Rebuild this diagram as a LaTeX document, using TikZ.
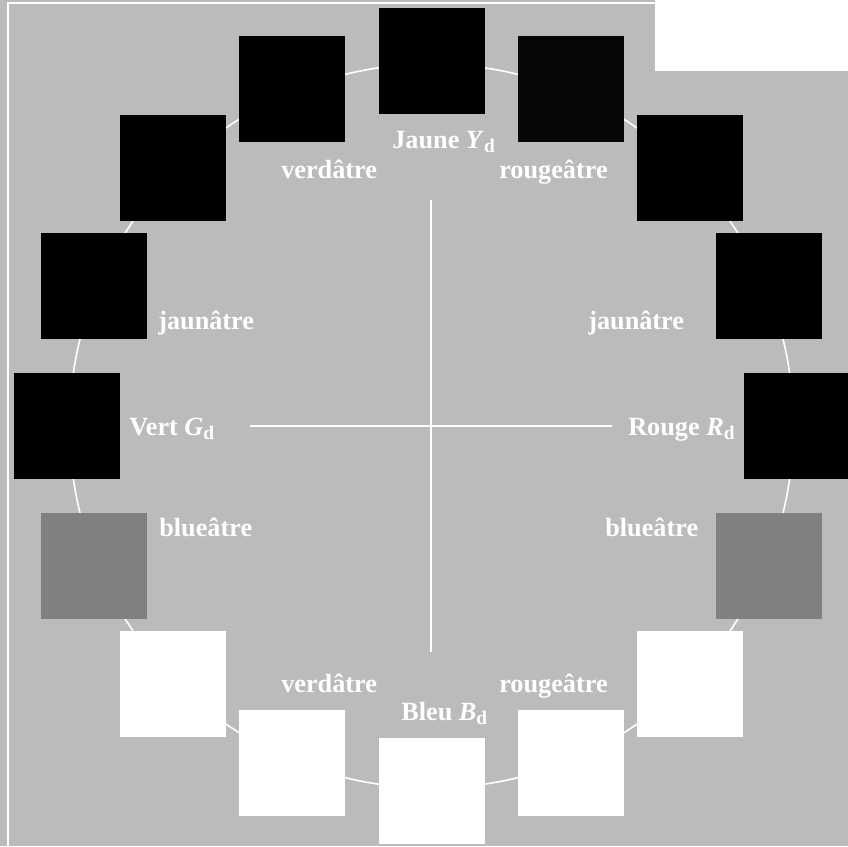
\documentclass[tikz,border=0pt]{standalone}
\usepackage{fontspec}
\setmainfont{Liberation Serif}
\definecolor{bggray}{HTML}{BBBBBB}
\definecolor{nearblack}{HTML}{060606}
\definecolor{midgray}{HTML}{808080}
\tikzset{
  sq/.style={draw=none, inner sep=0pt, minimum width=79.5pt, minimum height=79.5pt, fill=#1},
  lab/.style={text=white, inner sep=0pt, anchor=base west, font=\fontsize{19.7}{23}\selectfont\bfseries},
  thinwhite/.style={draw=white, line width=1.2pt}
}
\newcommand{\subd}{\raisebox{-3pt}{\fontsize{14.5}{16}\selectfont\bfseries d}}
\begin{document}
\begin{tikzpicture}[x=0.75pt,y=-0.75pt]
\useasboundingbox (0,0) rectangle (848,846);
\fill[bggray] (0,0) rectangle (848,846);
% frame
\draw[white, line width=1.5pt] (8,850) -- (8,3) -- (655,3);
\fill[white] (655,0) rectangle (848,71);
% circle
\coordinate (c) at (431.5,426);
\draw[thinwhite] (c) circle [radius=362];
% axes
\coordinate (vt) at (431,200);
\coordinate (vb) at (431,652);
\coordinate (hl) at (250,426);
\coordinate (hr) at (612,426);
\draw[thinwhite] (vt) -- (vb);
\draw[thinwhite] (hl) -- (hr);
% squares
\foreach \a/\col [count=\i] in {90/black,112.5/black,67.5/nearblack,135/black,45/black,157.5/black,22.5/black,180/black,0/black,202.5/midgray,-22.5/midgray,225/white,-45/white,247.5/white,-67.5/white,270/white}{
  \node[sq=\col] (sq\i) at ({431.5+365*cos(\a)},{426-365*sin(\a)}) {};
}
% labels
\node[lab] (ljaune) at (392,148) {Jaune \textit{Y}\subd};
\node[lab] (lverdt) at (281,178) {verdâtre};
\node[lab] (lrouget) at (499,178) {rougeâtre};
\node[lab] (ljaunl) at (158,329) {jaunâtre};
\node[lab] (ljaunr) at (588,329) {jaunâtre};
\node[lab] (lvert) at (129,435) {Vert \textit{G}\subd};
\node[lab] (lrouge) at (628,435) {Rouge \textit{R}\subd};
\node[lab] (lbluel) at (159,536) {blueâtre};
\node[lab] (lbluer) at (605,536) {blueâtre};
\node[lab] (lverdb) at (281,692) {verdâtre};
\node[lab] (lrougeb) at (499,692) {rougeâtre};
\node[lab] (lbleu) at (401,720) {Bleu \textit{B}\subd};
\end{tikzpicture}
\end{document}
